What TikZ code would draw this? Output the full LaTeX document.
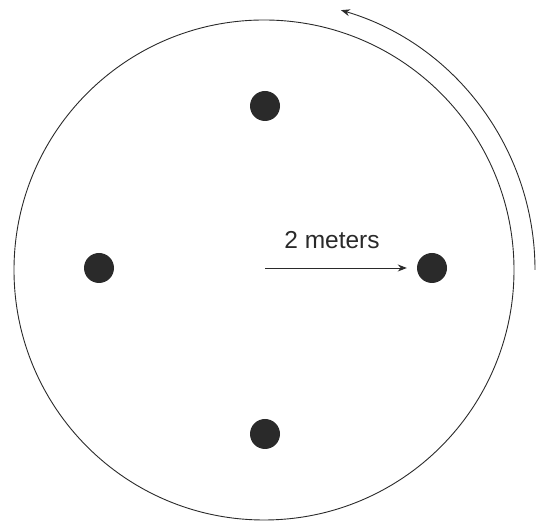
\documentclass[tikz,border=0pt]{standalone}
\usepackage{fontspec}
\setmainfont{Liberation Sans}
\usetikzlibrary{arrows.meta}
\definecolor{ink}{HTML}{2A2A2A}
\tikzset{
  dotmark/.style={circle, fill=ink, draw=none, inner sep=0pt, minimum size=30pt},
  thinline/.style={draw=ink, line width=0.9pt},
  tip/.style={-{Stealth[length=9pt,width=7pt]}}
}
\begin{document}
\begin{tikzpicture}[x=1pt,y=1pt]
\useasboundingbox (0,0) rectangle (544,526);
\coordinate (o) at (264,256);
\draw[thinline] (o) circle[radius=250pt];
\node[dotmark] (top) at (265,420) {};
\node[dotmark] (bot) at (265,92) {};
\node[dotmark] (lft) at (99,258) {};
\node[dotmark] (rgt) at (432,258) {};
\coordinate (start) at (265,258);
\draw[thinline, tip, shorten >=10pt] (start) -- (rgt.west);
\node[text=ink, font=\fontsize{24.5}{29}\selectfont] (lab) at (332,286) {2 meters};
\draw[thinline, tip] (o) ++(0:271pt) arc[start angle=0, end angle=73.5, radius=271pt];
\end{tikzpicture}
\end{document}
